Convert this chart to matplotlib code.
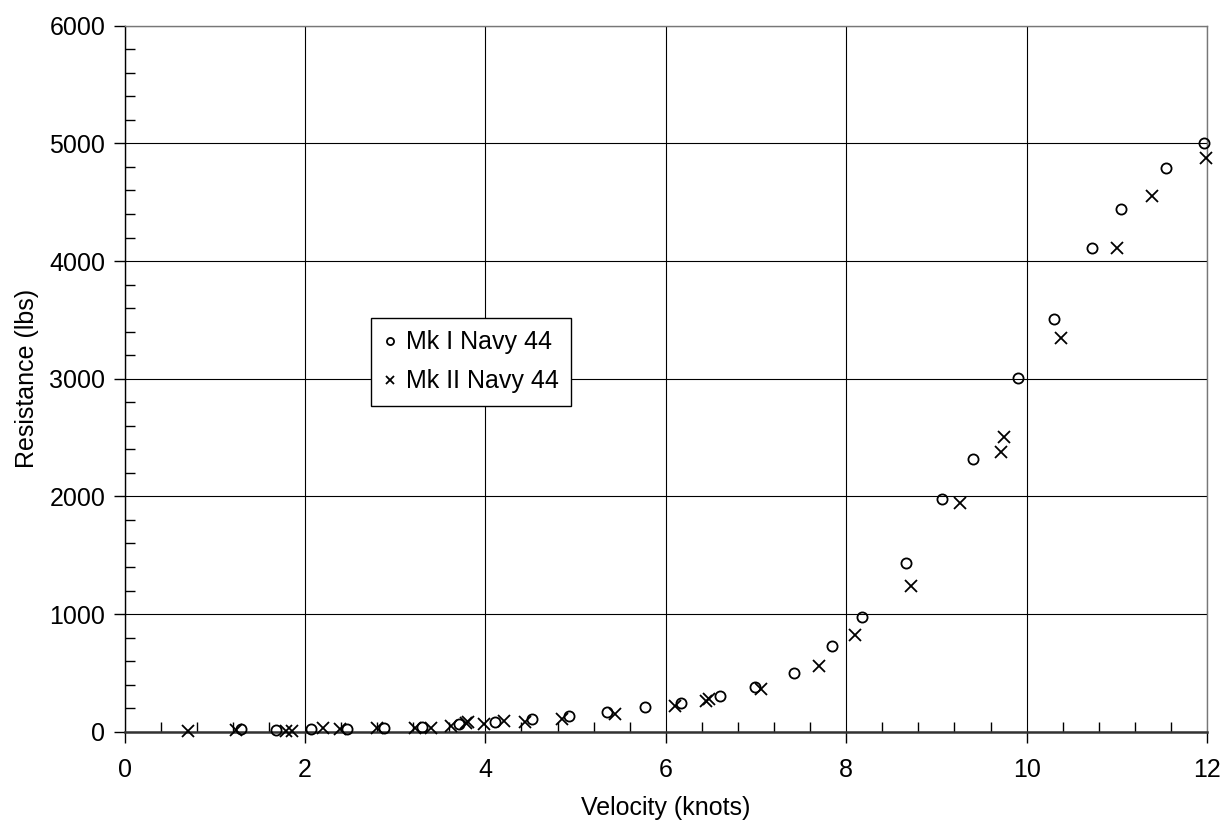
"""Resistance vs velocity for the two Navy 44 hull versions (scatter)."""

import matplotlib
matplotlib.use("Agg")
import matplotlib.pyplot as plt
from matplotlib.ticker import MultipleLocator

plt.rcParams["font.family"] = ["Liberation Sans", "DejaVu Sans"]

# Mk I Navy 44 (circles)
mk1_knots = [1.29, 1.68, 2.07, 2.47, 2.88, 3.30, 3.71, 4.11, 4.52, 4.93,
             5.35, 5.77, 6.17, 6.60, 6.99, 7.42, 7.84, 8.17, 8.66, 9.06,
             9.41, 9.90, 10.30, 10.73, 11.05, 11.55, 11.97]
mk1_lbs = [20, 14, 20, 22, 30, 42, 65, 85, 105, 136,
           170, 208, 246, 300, 380, 498, 730, 972, 1436, 1980,
           2317, 3003, 3504, 4110, 4445, 4793, 5000]

# Mk II Navy 44 (crosses)
mk2_knots = [0.70, 1.23, 1.79, 1.86, 2.20, 2.39, 2.80, 3.22, 3.40, 3.62,
             3.79, 3.81, 3.98, 4.21, 4.44, 4.85, 5.44, 6.10, 6.45, 6.48,
             7.06, 7.70, 8.10, 8.72, 9.26, 9.72, 9.75, 10.38, 11.00, 11.39,
             11.99]
mk2_lbs = [5, 18, 7, 8, 28, 20, 28, 34, 28, 51,
           72, 79, 65, 91, 85, 110, 147, 215, 262, 278,
           363, 560, 823, 1238, 1943, 2377, 2504, 3348, 4110, 4553,
           4873]

fig = plt.figure(figsize=(12.25, 8.24), dpi=100)
ax = fig.add_axes([0.1017, 0.112, 0.8836, 0.8568])

ax.plot(mk1_knots, mk1_lbs, linestyle="none", marker="o", markersize=7.3,
        markerfacecolor="none", markeredgecolor="black", markeredgewidth=1.3,
        label="Mk I Navy 44", clip_on=False, zorder=3)
ax.plot(mk2_knots, mk2_lbs, linestyle="none", marker="x", markersize=8,
        color="black", markeredgewidth=1.3,
        label="Mk II Navy 44", clip_on=False, zorder=3)

ax.set_xlim(0, 12)
ax.set_ylim(0, 6000)
ax.xaxis.set_major_locator(MultipleLocator(2))
ax.xaxis.set_minor_locator(MultipleLocator(0.4))
ax.yaxis.set_major_locator(MultipleLocator(1000))
ax.yaxis.set_minor_locator(MultipleLocator(200))

ax.grid(True, which="major", color="black", linewidth=0.8)
ax.set_axisbelow(True)
ax.tick_params(which="major", direction="out", length=8, width=1,
               labelsize=18)
ax.tick_params(axis="x", which="major", pad=11)
ax.tick_params(axis="y", which="major", pad=6)
ax.tick_params(which="minor", direction="in", length=7, width=1)

for side in ("top", "right"):
    ax.spines[side].set_color("#777777")
    ax.spines[side].set_linewidth(1.0)
ax.spines["left"].set_linewidth(1.0)
ax.spines["bottom"].set_linewidth(1.8)
ax.spines["bottom"].set_color("#333333")

ax.set_xlabel("Velocity (knots)", fontsize=18, labelpad=10)
ax.set_ylabel("Resistance (lbs)", fontsize=18, labelpad=7)

leg = ax.legend(loc="upper left", bbox_to_anchor=(0.2276, 0.586),
                fontsize=18, frameon=True, fancybox=False, framealpha=1,
                handlelength=0.55, handletextpad=0.35, borderpad=0.5,
                labelspacing=0.6, markerscale=0.7, borderaxespad=0)
leg.get_frame().set_edgecolor("black")
leg.get_frame().set_linewidth(1.0)

fig.savefig("out.png", dpi=100)
